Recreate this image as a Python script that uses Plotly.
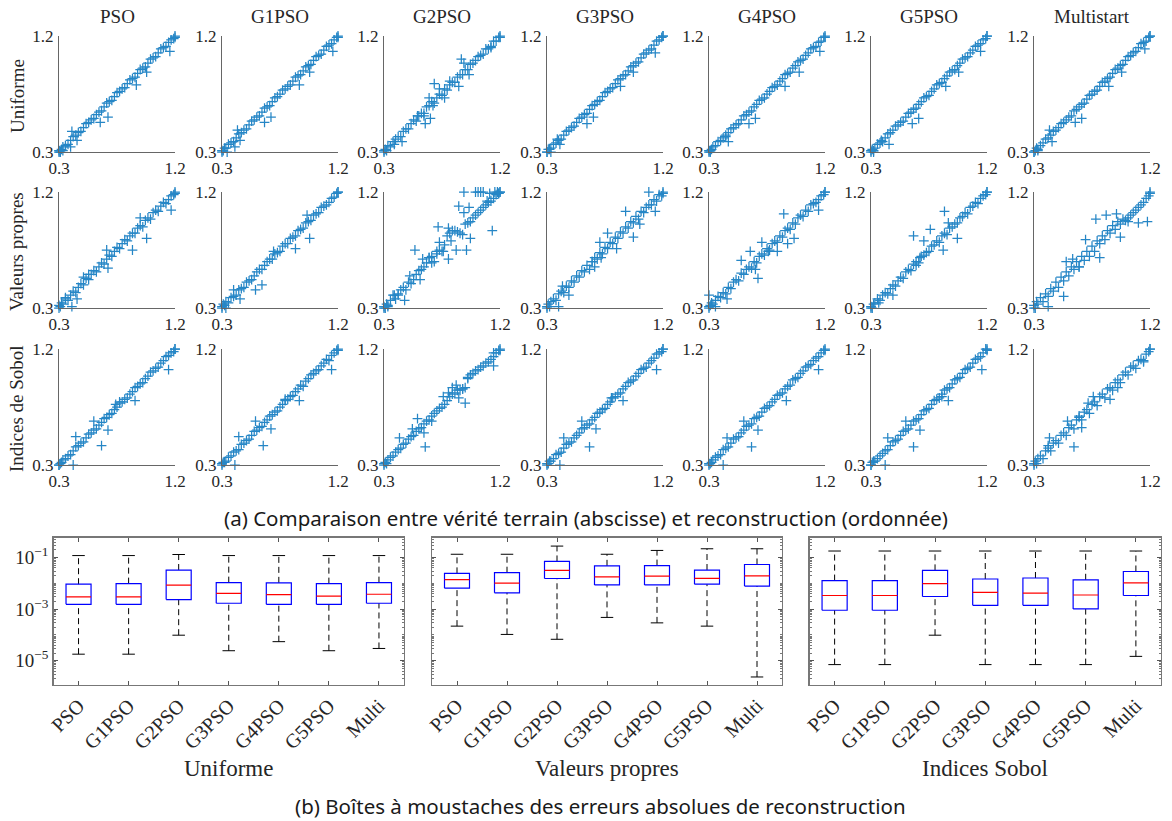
import plotly.graph_objects as go

W, H = 1172, 821

# ---------------- data : scatter panels ----------------
COLUMNS = ["PSO", "G1PSO", "G2PSO", "G3PSO", "G4PSO", "G5PSO", "Multistart"]
ROWS = ["Uniforme", "Valeurs propres", "Indices de Sobol"]
SCATTER_TICKS = [0.3, 1.2]

TRUTH = [0.30, 0.30, 0.31, 0.32, 0.33, 0.35, 0.37, 0.39, 0.41, 0.43,
         0.45, 0.47, 0.49, 0.51, 0.53, 0.55, 0.57, 0.59, 0.61, 0.63,
         0.65, 0.67, 0.69, 0.71, 0.73, 0.75, 0.77, 0.79, 0.81, 0.83,
         0.85, 0.87, 0.89, 0.91, 0.93, 0.95, 0.97, 0.99, 1.01, 1.03,
         1.05, 1.07, 1.09, 1.11, 1.13, 1.15, 1.17, 1.19, 1.20, 1.20]

# Uniforme
Y_U_PSO = [0.30, 0.31, 0.30, 0.32, 0.34, 0.35, 0.36, 0.39, 0.42, 0.43,
           0.45, 0.46, 0.49, 0.52, 0.53, 0.55, 0.56, 0.59, 0.61, 0.62,
           0.65, 0.68, 0.69, 0.70, 0.73, 0.76, 0.77, 0.79, 0.80, 0.83,
           0.86, 0.87, 0.88, 0.91, 0.94, 0.95, 0.96, 0.99, 1.02, 1.03,
           1.04, 1.07, 1.10, 1.11, 1.12, 1.15, 1.17, 1.18, 1.20, 1.19]
OX_U_PSO = [0.40, 0.39, 0.44, 0.62, 0.68, 0.90, 0.98, 1.16, 0.31, 0.33]
OY_U_PSO = [0.46, 0.34, 0.39, 0.53, 0.57, 0.82, 0.92, 1.08, 0.30, 0.31]

Y_U_G1 = [0.31, 0.30, 0.31, 0.33, 0.33, 0.36, 0.37, 0.38, 0.41, 0.44,
          0.45, 0.47, 0.48, 0.51, 0.54, 0.55, 0.57, 0.58, 0.61, 0.64,
          0.65, 0.66, 0.69, 0.72, 0.73, 0.75, 0.78, 0.79, 0.81, 0.82,
          0.85, 0.88, 0.89, 0.90, 0.93, 0.96, 0.97, 0.98, 1.01, 1.04,
          1.05, 1.06, 1.09, 1.12, 1.13, 1.14, 1.17, 1.19, 1.19, 1.20]
OX_U_G1 = [0.42, 0.40, 0.44, 0.63, 0.68, 0.90, 0.98, 1.16, 0.34]
OY_U_G1 = [0.47, 0.34, 0.39, 0.53, 0.57, 0.82, 0.92, 1.08, 0.30]

Y_U_G2 = [0.30, 0.31, 0.32, 0.31, 0.35, 0.34, 0.38, 0.40, 0.42, 0.42,
          0.46, 0.48, 0.48, 0.52, 0.55, 0.54, 0.58, 0.60, 0.60, 0.65,
          0.66, 0.69, 0.68, 0.72, 0.75, 0.74, 0.79, 0.78, 0.82, 0.84,
          0.84, 0.88, 0.90, 0.90, 0.94, 0.94, 0.98, 0.99, 1.01, 1.04,
          1.05, 1.06, 1.10, 1.10, 1.12, 1.16, 1.16, 1.19, 1.20, 1.19]
OX_U_G2 = [0.90, 0.92, 0.69, 0.65, 0.68, 0.61, 0.66, 0.88, 0.96, 0.44,
           0.38, 0.62, 0.81, 1.13, 0.56, 0.73, 0.77]
OY_U_G2 = [1.02, 0.99, 0.83, 0.72, 0.66, 0.58, 0.56, 0.81, 0.90, 0.38,
           0.36, 0.52, 0.85, 1.11, 0.58, 0.79, 0.72]

Y_U_G3 = [0.30, 0.30, 0.32, 0.32, 0.33, 0.36, 0.37, 0.39, 0.40, 0.43,
          0.46, 0.47, 0.49, 0.50, 0.53, 0.56, 0.57, 0.59, 0.60, 0.63,
          0.66, 0.67, 0.69, 0.70, 0.73, 0.76, 0.77, 0.79, 0.80, 0.83,
          0.86, 0.87, 0.89, 0.90, 0.93, 0.96, 0.97, 0.99, 1.00, 1.03,
          1.06, 1.07, 1.09, 1.10, 1.13, 1.16, 1.17, 1.19, 1.20, 1.20]
OX_U_G3 = [1.14, 0.97, 0.87, 0.66, 0.61, 0.40, 0.38, 0.33]
OY_U_G3 = [1.07, 0.92, 0.81, 0.57, 0.52, 0.36, 0.40, 0.30]

Y_U_G4 = [0.30, 0.31, 0.31, 0.32, 0.34, 0.35, 0.38, 0.39, 0.41, 0.42,
          0.45, 0.48, 0.49, 0.51, 0.52, 0.55, 0.58, 0.59, 0.61, 0.62,
          0.65, 0.67, 0.70, 0.71, 0.72, 0.75, 0.77, 0.80, 0.81, 0.82,
          0.85, 0.87, 0.90, 0.91, 0.92, 0.95, 0.97, 1.00, 1.01, 1.02,
          1.05, 1.07, 1.10, 1.11, 1.12, 1.15, 1.16, 1.19, 1.20, 1.19]
OX_U_G4 = [1.16, 1.00, 0.89, 0.66, 0.61, 0.45, 0.43, 0.31]
OY_U_G4 = [1.08, 0.92, 0.81, 0.56, 0.52, 0.38, 0.43, 0.30]

Y_U_G5 = [0.31, 0.30, 0.32, 0.31, 0.33, 0.36, 0.37, 0.38, 0.41, 0.44,
          0.45, 0.47, 0.50, 0.51, 0.53, 0.54, 0.57, 0.60, 0.61, 0.63,
          0.64, 0.67, 0.69, 0.72, 0.73, 0.74, 0.77, 0.79, 0.82, 0.83,
          0.84, 0.87, 0.89, 0.92, 0.93, 0.94, 0.97, 0.99, 1.02, 1.03,
          1.04, 1.07, 1.09, 1.12, 1.13, 1.14, 1.17, 1.18, 1.20, 1.20]
OX_U_G5 = [1.15, 0.98, 0.88, 0.67, 0.62, 0.44, 0.38, 0.32]
OY_U_G5 = [1.08, 0.92, 0.81, 0.56, 0.52, 0.36, 0.39, 0.30]

Y_U_MS = [0.30, 0.30, 0.31, 0.33, 0.32, 0.35, 0.37, 0.40, 0.41, 0.43,
          0.46, 0.47, 0.49, 0.52, 0.53, 0.55, 0.57, 0.58, 0.62, 0.63,
          0.65, 0.67, 0.68, 0.71, 0.74, 0.75, 0.77, 0.78, 0.81, 0.84,
          0.85, 0.87, 0.88, 0.91, 0.94, 0.95, 0.97, 0.98, 1.01, 1.04,
          1.05, 1.07, 1.08, 1.11, 1.14, 1.15, 1.16, 1.19, 1.20, 1.20]
OX_U_MS = [1.16, 0.98, 0.88, 0.67, 0.62, 0.44, 0.42, 0.33]
OY_U_MS = [1.10, 0.92, 0.81, 0.56, 0.53, 0.38, 0.47, 0.31]

# Valeurs propres
Y_V_PSO = [0.30, 0.32, 0.31, 0.34, 0.33, 0.37, 0.36, 0.40, 0.43, 0.42,
           0.46, 0.49, 0.48, 0.53, 0.52, 0.56, 0.59, 0.58, 0.62, 0.65,
           0.64, 0.68, 0.71, 0.70, 0.74, 0.77, 0.76, 0.80, 0.83, 0.82,
           0.86, 0.88, 0.88, 0.92, 0.94, 0.93, 0.98, 1.00, 0.99, 1.04,
           1.06, 1.05, 1.09, 1.12, 1.11, 1.14, 1.17, 1.18, 1.20, 1.19]
OX_V_PSO = [1.17, 0.98, 0.87, 0.93, 0.68, 0.40, 0.44, 0.49, 0.67, 0.35, 0.53]
OY_V_PSO = [1.06, 0.84, 0.75, 1.00, 0.61, 0.31, 0.37, 0.54, 0.75, 0.38, 0.56]

Y_V_G1 = [0.31, 0.30, 0.33, 0.32, 0.35, 0.34, 0.38, 0.39, 0.40, 0.44,
          0.45, 0.46, 0.50, 0.51, 0.52, 0.55, 0.58, 0.60, 0.60, 0.63,
          0.66, 0.68, 0.68, 0.72, 0.73, 0.74, 0.78, 0.80, 0.80, 0.84,
          0.85, 0.86, 0.90, 0.91, 0.92, 0.96, 0.97, 0.98, 1.02, 1.03,
          1.04, 1.08, 1.09, 1.10, 1.12, 1.15, 1.16, 1.19, 1.20, 1.20]
OX_V_G1 = [0.98, 0.87, 0.61, 0.56, 0.44, 0.39, 0.96, 0.70, 0.33]
OY_V_G1 = [0.84, 0.76, 0.48, 0.44, 0.37, 0.44, 1.02, 0.74, 0.30]

Y_V_G2 = [0.30, 0.31, 0.30, 0.33, 0.32, 0.36, 0.40, 0.37, 0.41, 0.44,
          0.46, 0.44, 0.50, 0.49, 0.52, 0.56, 0.59, 0.60, 0.62, 0.65,
          0.69, 0.70, 0.66, 0.72, 0.75, 0.74, 0.79, 0.86, 0.88, 0.90,
          0.90, 0.89, 0.88, 0.87, 0.95, 0.96, 0.97, 1.00, 1.02, 1.04,
          1.06, 1.08, 1.10, 1.12, 1.13, 1.15, 1.18, 1.19, 1.20, 1.20]
OX_V_G2 = [0.92, 1.01, 1.03, 1.05, 1.07, 1.16, 1.18, 1.10, 0.88, 0.92,
           0.96, 1.14, 0.72, 0.80, 0.97, 0.94, 0.86, 0.82, 0.73, 0.54,
           0.60, 0.65, 0.67, 0.71, 0.76, 0.80, 0.58, 0.46, 0.41, 0.38,
           0.33, 0.50, 1.12, 1.19]
OY_V_G2 = [1.20, 1.20, 1.20, 1.20, 1.20, 1.20, 1.20, 1.13, 1.09, 1.04,
           1.08, 0.90, 0.93, 0.92, 0.84, 0.75, 0.75, 0.82, 0.81, 0.75,
           0.68, 0.69, 0.65, 0.74, 0.74, 0.68, 0.52, 0.36, 0.40, 0.40,
           0.31, 0.55, 1.19, 1.19]

Y_V_G3 = [0.30, 0.31, 0.33, 0.31, 0.35, 0.37, 0.36, 0.41, 0.43, 0.42,
          0.47, 0.46, 0.51, 0.50, 0.55, 0.54, 0.59, 0.58, 0.63, 0.60,
          0.66, 0.69, 0.68, 0.73, 0.72, 0.77, 0.76, 0.81, 0.80, 0.85,
          0.84, 0.89, 0.88, 0.93, 0.92, 0.97, 0.96, 1.01, 0.99, 1.05,
          1.04, 1.08, 1.10, 1.10, 1.14, 1.13, 1.18, 1.17, 1.20, 1.19]
OX_V_G3 = [1.09, 1.14, 1.02, 0.97, 0.91, 0.84, 0.77, 0.71, 0.67, 0.72,
           0.65, 0.47, 0.39, 0.42]
OY_V_G3 = [1.20, 1.05, 0.95, 0.85, 1.05, 0.76, 0.88, 0.81, 0.62, 0.69,
           0.66, 0.40, 0.31, 0.47]

Y_V_G4 = [0.31, 0.30, 0.32, 0.34, 0.33, 0.36, 0.39, 0.38, 0.42, 0.41,
          0.46, 0.45, 0.50, 0.52, 0.51, 0.57, 0.56, 0.60, 0.62, 0.61,
          0.66, 0.65, 0.70, 0.72, 0.71, 0.76, 0.75, 0.80, 0.82, 0.81,
          0.86, 0.85, 0.90, 0.92, 0.91, 0.96, 0.95, 1.00, 1.02, 1.01,
          1.06, 1.05, 1.10, 1.11, 1.12, 1.14, 1.17, 1.18, 1.20, 1.20]
OX_V_G4 = [0.88, 1.15, 0.96, 0.91, 0.83, 0.76, 0.62, 0.71, 0.66, 0.68,
           0.44, 0.30, 0.35, 0.55]
OY_V_G4 = [1.03, 1.06, 0.84, 0.80, 0.74, 0.74, 0.74, 0.81, 0.60, 0.53,
           0.37, 0.40, 0.31, 0.67]

Y_V_G5 = [0.30, 0.31, 0.30, 0.33, 0.34, 0.37, 0.36, 0.40, 0.42, 0.41,
          0.45, 0.48, 0.47, 0.51, 0.54, 0.53, 0.58, 0.60, 0.59, 0.64,
          0.66, 0.65, 0.70, 0.71, 0.73, 0.74, 0.78, 0.79, 0.82, 0.81,
          0.86, 0.88, 0.87, 0.92, 0.93, 0.95, 0.96, 1.00, 1.01, 1.04,
          1.03, 1.08, 1.09, 1.12, 1.11, 1.15, 1.17, 1.18, 1.20, 1.20]
OX_V_G5 = [0.87, 0.97, 0.86, 0.76, 0.63, 0.68, 0.65, 0.47, 0.36, 0.71, 0.90]
OY_V_G5 = [1.05, 0.84, 0.75, 0.91, 0.86, 0.69, 0.63, 0.40, 0.34, 0.82, 0.96]

Y_V_MS = [0.30, 0.32, 0.30, 0.35, 0.33, 0.38, 0.35, 0.41, 0.39, 0.45,
          0.43, 0.50, 0.46, 0.54, 0.51, 0.58, 0.55, 0.62, 0.60, 0.66,
          0.62, 0.70, 0.67, 0.74, 0.70, 0.78, 0.74, 0.82, 0.80, 0.86,
          0.83, 0.90, 0.88, 0.94, 0.91, 0.97, 0.95, 0.99, 0.98, 1.00,
          1.02, 1.04, 1.06, 1.08, 1.10, 1.12, 1.15, 1.17, 1.19, 1.20]
OX_V_MS = [0.78, 0.86, 0.94, 1.03, 1.11, 1.18, 0.97, 0.70, 0.81, 0.55,
           0.53, 0.41, 0.60, 0.65]
OY_V_MS = [0.99, 1.02, 1.03, 0.97, 0.96, 0.97, 0.85, 0.83, 0.69, 0.66,
           0.39, 0.31, 0.68, 0.62]

# Indices de Sobol
Y_S_PSO = [0.30, 0.30, 0.31, 0.32, 0.34, 0.35, 0.37, 0.38, 0.41, 0.44,
           0.45, 0.47, 0.48, 0.51, 0.54, 0.55, 0.57, 0.58, 0.61, 0.63,
           0.66, 0.67, 0.69, 0.70, 0.73, 0.75, 0.78, 0.79, 0.81, 0.82,
           0.85, 0.87, 0.90, 0.91, 0.93, 0.94, 0.97, 0.99, 1.02, 1.03,
           1.05, 1.06, 1.09, 1.11, 1.14, 1.15, 1.17, 1.18, 1.20, 1.20]
OX_S_PSO = [1.15, 0.89, 0.57, 0.43, 0.68, 0.63, 0.41, 0.77, 0.74]
OY_S_PSO = [1.04, 0.80, 0.64, 0.52, 0.57, 0.45, 0.30, 0.79, 0.77]

Y_S_G1 = [0.31, 0.30, 0.32, 0.32, 0.33, 0.36, 0.37, 0.40, 0.41, 0.42,
          0.46, 0.47, 0.49, 0.50, 0.53, 0.56, 0.57, 0.59, 0.60, 0.63,
          0.65, 0.68, 0.69, 0.71, 0.72, 0.75, 0.77, 0.80, 0.81, 0.83,
          0.84, 0.87, 0.89, 0.92, 0.91, 0.95, 0.97, 1.00, 1.01, 1.03,
          1.04, 1.07, 1.09, 1.12, 1.11, 1.15, 1.17, 1.19, 1.20, 1.19]
OX_S_G1 = [1.15, 0.90, 0.56, 0.43, 0.68, 0.62, 0.40, 0.79]
OY_S_G1 = [1.04, 0.80, 0.64, 0.52, 0.58, 0.45, 0.30, 0.81]

Y_S_G2 = [0.30, 0.31, 0.32, 0.31, 0.34, 0.36, 0.37, 0.40, 0.42, 0.43,
          0.46, 0.47, 0.50, 0.52, 0.53, 0.56, 0.58, 0.59, 0.62, 0.64,
          0.65, 0.68, 0.70, 0.72, 0.74, 0.75, 0.77, 0.80, 0.83, 0.85,
          0.86, 0.88, 0.88, 0.89, 0.90, 0.98, 1.00, 1.01, 1.03, 1.04,
          1.06, 1.07, 1.09, 1.10, 1.12, 1.14, 1.17, 1.19, 1.20, 1.19]
OX_S_G2 = [0.86, 0.80, 0.91, 0.93, 0.67, 0.56, 0.61, 0.62, 0.42, 1.15,
           1.15, 0.95, 0.83, 0.76, 0.88, 0.52]
OY_S_G2 = [0.92, 0.86, 0.89, 0.78, 0.64, 0.66, 0.55, 0.44, 0.51, 1.17,
           1.07, 0.97, 0.90, 0.83, 0.82, 0.58]

Y_S_G3 = [0.30, 0.31, 0.31, 0.33, 0.33, 0.35, 0.38, 0.39, 0.40, 0.43,
          0.46, 0.47, 0.48, 0.51, 0.53, 0.55, 0.58, 0.59, 0.61, 0.62,
          0.65, 0.67, 0.70, 0.71, 0.73, 0.74, 0.77, 0.79, 0.82, 0.83,
          0.85, 0.86, 0.89, 0.91, 0.94, 0.95, 0.96, 0.99, 1.01, 1.04,
          1.05, 1.06, 1.09, 1.11, 1.13, 1.16, 1.17, 1.18, 1.20, 1.20]
OX_S_G3 = [1.15, 0.89, 0.43, 0.63, 0.68, 0.57, 0.40, 0.80]
OY_S_G3 = [1.04, 0.80, 0.51, 0.44, 0.58, 0.64, 0.30, 0.82]

Y_S_G4 = [0.31, 0.30, 0.31, 0.32, 0.34, 0.36, 0.37, 0.38, 0.42, 0.43,
          0.44, 0.47, 0.50, 0.51, 0.52, 0.55, 0.57, 0.60, 0.61, 0.62,
          0.66, 0.67, 0.68, 0.71, 0.74, 0.75, 0.76, 0.79, 0.81, 0.84,
          0.85, 0.86, 0.89, 0.91, 0.92, 0.96, 0.97, 0.98, 1.01, 1.03,
          1.06, 1.07, 1.08, 1.11, 1.13, 1.14, 1.17, 1.19, 1.19, 1.20]
OX_S_G4 = [1.15, 0.90, 0.57, 0.44, 0.68, 0.63, 0.41]
OY_S_G4 = [1.04, 0.80, 0.64, 0.51, 0.57, 0.44, 0.30]

Y_S_G5 = [0.30, 0.30, 0.32, 0.33, 0.33, 0.35, 0.37, 0.39, 0.41, 0.42,
          0.45, 0.48, 0.49, 0.50, 0.53, 0.56, 0.57, 0.58, 0.61, 0.64,
          0.65, 0.66, 0.69, 0.72, 0.73, 0.74, 0.77, 0.80, 0.81, 0.82,
          0.85, 0.88, 0.89, 0.90, 0.93, 0.96, 0.97, 0.98, 1.01, 1.04,
          1.05, 1.06, 1.09, 1.12, 1.13, 1.14, 1.17, 1.20, 1.20, 1.19]
OX_S_G5 = [1.16, 0.90, 0.57, 0.43, 0.68, 0.63, 0.41, 0.85]
OY_S_G5 = [1.04, 0.80, 0.64, 0.51, 0.57, 0.44, 0.30, 0.83]

Y_S_MS = [0.30, 0.31, 0.33, 0.31, 0.35, 0.37, 0.35, 0.41, 0.43, 0.41,
          0.47, 0.49, 0.47, 0.53, 0.55, 0.53, 0.59, 0.61, 0.58, 0.65,
          0.67, 0.65, 0.71, 0.73, 0.70, 0.77, 0.79, 0.76, 0.83, 0.85,
          0.82, 0.89, 0.90, 0.88, 0.94, 0.96, 0.94, 1.00, 1.02, 1.00,
          1.06, 1.07, 1.05, 1.11, 1.12, 1.11, 1.16, 1.18, 1.20, 1.20]
OX_S_MS = [1.15, 0.89, 0.76, 0.67, 0.61, 0.42, 0.41, 0.56, 0.65, 0.72, 0.95]
OY_S_MS = [1.10, 0.81, 0.83, 0.59, 0.44, 0.51, 0.45, 0.64, 0.68, 0.78, 0.90]

# ---------------- data : box plots ----------------
BOX_LABELS = ["PSO", "G1PSO", "G2PSO", "G3PSO", "G4PSO", "G5PSO", "Multi"]
BOX_GROUPS = ["Uniforme", "Valeurs propres", "Indices Sobol"]
LOG_TICKS = [1e-5, 1e-3, 1e-1]
LOG_TICKTEXT = ["10<sup>\u22125</sup>", "10<sup>\u22123</sup>", "10<sup>\u22121</sup>"]

UNI_UPPER = [1.2e-1, 1.2e-1, 1.32e-1, 1.2e-1, 1.2e-1, 1.2e-1, 1.2e-1]
UNI_Q3 = [9.3e-3, 9.8e-3, 3.3e-2, 1.07e-2, 1.05e-2, 9.8e-3, 1.07e-2]
UNI_MED = [3.0e-3, 3.0e-3, 8.5e-3, 4.1e-3, 3.7e-3, 3.2e-3, 3.8e-3]
UNI_Q1 = [1.55e-3, 1.55e-3, 2.35e-3, 1.7e-3, 1.55e-3, 1.55e-3, 1.7e-3]
UNI_LOWER = [1.8e-5, 1.8e-5, 9.8e-5, 2.45e-5, 5.5e-5, 2.45e-5, 3.0e-5]

VP_UPPER = [1.35e-1, 1.35e-1, 2.8e-1, 1.35e-1, 1.9e-1, 2.2e-1, 2.2e-1]
VP_Q3 = [2.45e-2, 2.6e-2, 7.1e-2, 4.8e-2, 4.9e-2, 3.3e-2, 5.4e-2]
VP_MED = [1.4e-2, 1.02e-2, 3.2e-2, 1.78e-2, 1.9e-2, 1.58e-2, 1.95e-2]
VP_Q1 = [6.5e-3, 4.3e-3, 1.55e-2, 8.7e-3, 8.7e-3, 9.3e-3, 7.9e-3]
VP_LOWER = [2.2e-4, 1.05e-4, 6.8e-5, 4.8e-4, 2.95e-4, 2.2e-4, 2.35e-6]

SOB_UPPER = [1.8e-1, 1.8e-1, 1.8e-1, 1.8e-1, 1.8e-1, 1.8e-1, 1.8e-1]
SOB_Q3 = [1.29e-2, 1.29e-2, 3.2e-2, 1.48e-2, 1.62e-2, 1.38e-2, 2.9e-2]
SOB_MED = [3.4e-3, 3.4e-3, 9.8e-3, 4.5e-3, 4.2e-3, 3.55e-3, 1.05e-2]
SOB_Q1 = [9.1e-4, 9.1e-4, 3.1e-3, 1.41e-3, 1.41e-3, 1.02e-3, 3.4e-3]
SOB_LOWER = [7.1e-6, 7.1e-6, 9.8e-5, 7.1e-6, 7.1e-6, 7.1e-6, 1.48e-5]

# ---------------- assemble ----------------
PANELS = [
    [(Y_U_PSO, OX_U_PSO, OY_U_PSO), (Y_U_G1, OX_U_G1, OY_U_G1), (Y_U_G2, OX_U_G2, OY_U_G2),
     (Y_U_G3, OX_U_G3, OY_U_G3), (Y_U_G4, OX_U_G4, OY_U_G4), (Y_U_G5, OX_U_G5, OY_U_G5),
     (Y_U_MS, OX_U_MS, OY_U_MS)],
    [(Y_V_PSO, OX_V_PSO, OY_V_PSO), (Y_V_G1, OX_V_G1, OY_V_G1), (Y_V_G2, OX_V_G2, OY_V_G2),
     (Y_V_G3, OX_V_G3, OY_V_G3), (Y_V_G4, OX_V_G4, OY_V_G4), (Y_V_G5, OX_V_G5, OY_V_G5),
     (Y_V_MS, OX_V_MS, OY_V_MS)],
    [(Y_S_PSO, OX_S_PSO, OY_S_PSO), (Y_S_G1, OX_S_G1, OY_S_G1), (Y_S_G2, OX_S_G2, OY_S_G2),
     (Y_S_G3, OX_S_G3, OY_S_G3), (Y_S_G4, OX_S_G4, OY_S_G4), (Y_S_G5, OX_S_G5, OY_S_G5),
     (Y_S_MS, OX_S_MS, OY_S_MS)],
]
BOXES = [
    (UNI_LOWER, UNI_Q1, UNI_MED, UNI_Q3, UNI_UPPER),
    (VP_LOWER, VP_Q1, VP_MED, VP_Q3, VP_UPPER),
    (SOB_LOWER, SOB_Q1, SOB_MED, SOB_Q3, SOB_UPPER),
]

SERIF = "Liberation Serif"
SANS = "Noto Sans"
TXT = "#262626"
BLUE = "#0072BD"


def fx(p):
    return p / W


def fy(p):
    return 1 - p / H


COL_LEFT = [59, 222, 384, 547, 709, 871, 1034]
PANEL_W = 116
ROW_TOP = [36, 192, 349]
PANEL_H = 116

fig = go.Figure()
layout = dict(
    width=W, height=H, margin=dict(l=0, r=0, t=0, b=0, pad=0), autosize=False,
    paper_bgcolor="white", plot_bgcolor="white", showlegend=False,
)
annotations = []

k = 0
for r in range(3):
    for c in range(7):
        k += 1
        yv, ox, oy = PANELS[r][c]
        xs = TRUTH + ox
        ys = yv + oy
        xa = "x" if k == 1 else f"x{k}"
        ya = "y" if k == 1 else f"y{k}"
        fig.add_trace(go.Scatter(
            x=xs, y=ys, xaxis=xa, yaxis=ya, mode="markers", cliponaxis=False,
            marker=dict(symbol="cross-thin", size=7, color=BLUE,
                        line=dict(width=1.25, color=BLUE)),
            opacity=0.85, hoverinfo="skip"))
        L = COL_LEFT[c]
        T = ROW_TOP[r]
        common = dict(
            range=[0.3, 1.2], tickmode="array", tickvals=SCATTER_TICKS,
            ticktext=["0.3", "1.2"], ticks="inside", ticklen=3, tickcolor="#555",
            showline=True, linecolor="#666", linewidth=1.2, showgrid=False,
            zeroline=False, tickfont=dict(family=SERIF, size=17, color=TXT),
            fixedrange=True, automargin=False,
        )
        layout["xaxis" if k == 1 else f"xaxis{k}"] = dict(
            common, domain=[fx(L), fx(L + PANEL_W)], anchor=ya, ticklabelstandoff=0)
        layout["yaxis" if k == 1 else f"yaxis{k}"] = dict(
            common, domain=[fy(T + PANEL_H), fy(T)], anchor=xa, ticklabelstandoff=1)

for c, name in enumerate(COLUMNS):
    annotations.append(dict(
        x=fx(COL_LEFT[c] + PANEL_W / 2), y=fy(16), xref="paper", yref="paper",
        text=name, showarrow=False, xanchor="center", yanchor="middle",
        font=dict(family=SERIF, size=19, color=TXT)))
for r, name in enumerate(ROWS):
    annotations.append(dict(
        x=fx(17), y=fy(ROW_TOP[r] + PANEL_H / 2 + 2), xref="paper", yref="paper",
        text=name, showarrow=False, textangle=-90, xanchor="center", yanchor="middle",
        font=dict(family=SERIF, size=19, color=TXT)))

annotations.append(dict(
    x=fx(586), y=fy(518), xref="paper", yref="paper",
    text="(a) Comparaison entre vérité terrain (abscisse) et reconstruction (ordonnée)",
    showarrow=False, xanchor="center", yanchor="middle",
    font=dict(family=SANS, size=20.5, color="#1a1a1a")))
annotations.append(dict(
    x=fx(600), y=fy(806), xref="paper", yref="paper",
    text="(b) Boîtes à moustaches des erreurs absolues de reconstruction",
    showarrow=False, xanchor="center", yanchor="middle",
    font=dict(family=SANS, size=20.5, color="#1a1a1a")))

# ---------------- box panels ----------------
BOX_LEFT = [53.5, 432, 809.5]
BOX_RIGHT = [404, 782, 1161]
BOX_TOP, BOX_BOTTOM = 537.5, 685
HALF_BOX = 0.25
HALF_CAP = 0.125
positions = list(range(1, 8))

for g in range(3):
    k += 1
    xa, ya = f"x{k}", f"y{k}"
    lo, q1, med, q3, up = BOXES[g]
    wx, wy, cx, cy, bx, by, mx, my = [], [], [], [], [], [], [], []
    for i, p in enumerate(positions):
        wx += [p, p, None, p, p, None]
        wy += [q3[i], up[i], None, lo[i], q1[i], None]
        cx += [p - HALF_CAP, p + HALF_CAP, None, p - HALF_CAP, p + HALF_CAP, None]
        cy += [up[i], up[i], None, lo[i], lo[i], None]
        bx += [p - HALF_BOX, p + HALF_BOX, p + HALF_BOX, p - HALF_BOX, p - HALF_BOX, None]
        by += [q1[i], q1[i], q3[i], q3[i], q1[i], None]
        mx += [p - HALF_BOX, p + HALF_BOX, None]
        my += [med[i], med[i], None]
    fig.add_trace(go.Scatter(x=wx, y=wy, xaxis=xa, yaxis=ya, mode="lines",
                             line=dict(color="black", width=1, dash="6px,4px"),
                             hoverinfo="skip"))
    fig.add_trace(go.Scatter(x=cx, y=cy, xaxis=xa, yaxis=ya, mode="lines",
                             line=dict(color="black", width=1), hoverinfo="skip"))
    fig.add_trace(go.Scatter(x=bx, y=by, xaxis=xa, yaxis=ya, mode="lines",
                             line=dict(color="#0000FF", width=1.2), hoverinfo="skip"))
    fig.add_trace(go.Scatter(x=mx, y=my, xaxis=xa, yaxis=ya, mode="lines",
                             line=dict(color="#FF0000", width=1.2), hoverinfo="skip"))
    layout[f"xaxis{k}"] = dict(
        domain=[fx(BOX_LEFT[g]), fx(BOX_RIGHT[g])], anchor=ya, range=[0.5, 7.5],
        tickmode="array", tickvals=positions, ticktext=BOX_LABELS, tickangle=-45,
        ticks="inside", ticklen=4, tickcolor="#555", showline=True, mirror="allticks",
        linecolor="#777", linewidth=1.2, showgrid=False, zeroline=False,
        tickfont=dict(family=SERIF, size=20, color=TXT), fixedrange=True,
        automargin=False)
    layout[f"yaxis{k}"] = dict(
        domain=[fy(BOX_BOTTOM), fy(BOX_TOP)], anchor=xa, type="log",
        range=[-5.94, -0.22], tickmode="array", tickvals=LOG_TICKS,
        ticktext=LOG_TICKTEXT, showticklabels=(g == 0),
        ticks="inside", ticklen=4, tickcolor="#555",
        showline=True, mirror="allticks", linecolor="#777", linewidth=1.2,
        showgrid=False, zeroline=False,
        minor=dict(ticks="inside", ticklen=2, tickcolor="#777", dtick="D1", showgrid=False),
        tickfont=dict(family=SERIF, size=19, color=TXT), fixedrange=True,
        automargin=False)
    annotations.append(dict(
        x=fx((BOX_LEFT[g] + BOX_RIGHT[g]) / 2), y=fy(768), xref="paper", yref="paper",
        text=BOX_GROUPS[g], showarrow=False, xanchor="center", yanchor="middle",
        font=dict(family=SERIF, size=23, color=TXT)))

layout["annotations"] = annotations
fig.update_layout(**layout)
fig.write_html(
    "out.html",
    config={"displayModeBar": False, "staticPlot": True},
    post_script="document.body.style.margin='0';document.body.style.padding='0';",
)
